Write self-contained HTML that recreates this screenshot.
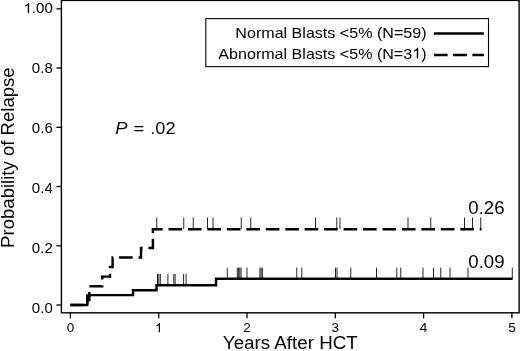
<!DOCTYPE html>
<html><head><meta charset="utf-8">
<style>
html,body{margin:0;padding:0;background:#fff;}
body{width:520px;height:351px;overflow:hidden;}
svg{display:block;will-change:transform;}
text{font-family:"Liberation Sans",sans-serif;fill:#000;}
</style></head><body>
<svg width="520" height="351" viewBox="0 0 520 351">
<rect width="520" height="351" fill="#fff"/>
<rect x="61.4" y="0.4" width="457.7" height="312.4" fill="none" stroke="#000" stroke-width="1.4"/>
<g stroke="#000" stroke-width="1.3">
<line x1="56.4" y1="8.8" x2="61" y2="8.8"/>
<line x1="56.4" y1="68.0" x2="61" y2="68.0"/>
<line x1="56.4" y1="127.3" x2="61" y2="127.3"/>
<line x1="56.4" y1="186.5" x2="61" y2="186.5"/>
<line x1="56.4" y1="245.8" x2="61" y2="245.8"/>
<line x1="56.4" y1="305.0" x2="61" y2="305.0"/>
<line x1="70.4" y1="313" x2="70.4" y2="318.3"/>
<line x1="158.7" y1="313" x2="158.7" y2="318.3"/>
<line x1="247.0" y1="313" x2="247.0" y2="318.3"/>
<line x1="335.3" y1="313" x2="335.3" y2="318.3"/>
<line x1="423.6" y1="313" x2="423.6" y2="318.3"/>
<line x1="511.9" y1="313" x2="511.9" y2="318.3"/>
</g>
<text transform="translate(52.8,13.2) scale(1.06,1)" font-size="14.2" text-anchor="end">.00</text>
<path transform="translate(23.51,13.2) scale(0.00735,-0.00693)" d="M763,0 H583 V1147 Q518,1085 412.5,1023 Q307,961 223,930 V1104 Q374,1175 487,1276 Q600,1377 647,1472 H763 Z" fill="#000"/>
<text transform="translate(52.8,73.0) scale(1.06,1)" font-size="14.2" text-anchor="end">0.8</text>
<text transform="translate(52.8,132.9) scale(1.06,1)" font-size="14.2" text-anchor="end">0.6</text>
<text transform="translate(52.8,192.8) scale(1.06,1)" font-size="14.2" text-anchor="end">0.4</text>
<text transform="translate(52.8,252.8) scale(1.06,1)" font-size="14.2" text-anchor="end">0.2</text>
<text transform="translate(52.8,312.7) scale(1.06,1)" font-size="14.2" text-anchor="end">0.0</text>
<text transform="translate(70.4,332.2) scale(1.06,1)" font-size="12.8" text-anchor="middle">0</text>
<path transform="translate(154.93,332.2) scale(0.00663,-0.00625)" d="M763,0 H583 V1147 Q518,1085 412.5,1023 Q307,961 223,930 V1104 Q374,1175 487,1276 Q600,1377 647,1472 H763 Z" fill="#000"/>
<text transform="translate(247.0,332.2) scale(1.06,1)" font-size="12.8" text-anchor="middle">2</text>
<text transform="translate(335.3,332.2) scale(1.06,1)" font-size="12.8" text-anchor="middle">3</text>
<text transform="translate(423.6,332.2) scale(1.06,1)" font-size="12.8" text-anchor="middle">4</text>
<text transform="translate(511.9,332.2) scale(1.06,1)" font-size="12.8" text-anchor="middle">5</text>
<text transform="translate(290.3,349) scale(1.068,1)" font-size="17.6" text-anchor="middle">Years After HCT</text>
<text transform="translate(14.3,157.6) rotate(-90) scale(1.05,1)" font-size="17.7" text-anchor="middle">Probability of Relapse</text>
<rect x="205.8" y="18.6" width="282.7" height="48" fill="#fff" stroke="#000" stroke-width="1.1"/>
<text transform="translate(426.5,37.7) scale(1.076,1)" font-size="14.95" text-anchor="end">Normal Blasts &lt;5% (N=59)</text>
<text transform="translate(412.20,58.5) scale(1.076,1)" font-size="14.95" text-anchor="end">Abnormal Blasts &lt;5% (N=3</text>
<path transform="translate(412.20,58.5) scale(0.00785,-0.00730)" d="M763,0 H583 V1147 Q518,1085 412.5,1023 Q307,961 223,930 V1104 Q374,1175 487,1276 Q600,1377 647,1472 H763 Z" fill="#000"/>
<text transform="translate(426.5,58.5) scale(1.076,1)" font-size="14.95" text-anchor="end">)</text>
<line x1="433.8" y1="33.4" x2="483.8" y2="33.4" stroke="#000" stroke-width="2.55"/>
<line x1="433.8" y1="55" x2="483.8" y2="55" stroke="#000" stroke-width="2.55" stroke-dasharray="13.8 5.5"/>
<text transform="translate(115.2,133.9) scale(1.06,1)" font-size="17.4" text-anchor="start"><tspan font-style="italic">P</tspan></text>
<text transform="translate(133.6,133.9) scale(1.06,1)" font-size="17.4" text-anchor="start">=</text>
<text transform="translate(150.3,133.9) scale(1.06,1)" font-size="17.1" text-anchor="start">.02</text>
<g stroke="#000" stroke-width="0.85">
<line x1="157.5" y1="273.9" x2="157.5" y2="285"/>
<line x1="158.8" y1="273.9" x2="158.8" y2="285"/>
<line x1="160.3" y1="273.9" x2="160.3" y2="285"/>
<line x1="167.9" y1="273.9" x2="167.9" y2="285"/>
<line x1="173.8" y1="273.9" x2="173.8" y2="285"/>
<line x1="175.1" y1="273.9" x2="175.1" y2="285"/>
<line x1="183.6" y1="273.9" x2="183.6" y2="285"/>
<line x1="186.1" y1="273.9" x2="186.1" y2="285"/>
<line x1="227.3" y1="267.6" x2="227.3" y2="278.7"/>
<line x1="237.3" y1="267.6" x2="237.3" y2="278.7"/>
<line x1="238.6" y1="267.6" x2="238.6" y2="278.7"/>
<line x1="239.8" y1="267.6" x2="239.8" y2="278.7"/>
<line x1="241.1" y1="267.6" x2="241.1" y2="278.7"/>
<line x1="247" y1="267.6" x2="247" y2="278.7"/>
<line x1="259.9" y1="267.6" x2="259.9" y2="278.7"/>
<line x1="261.1" y1="267.6" x2="261.1" y2="278.7"/>
<line x1="262.4" y1="267.6" x2="262.4" y2="278.7"/>
<line x1="296.75" y1="267.6" x2="296.75" y2="278.7"/>
<line x1="301.75" y1="267.6" x2="301.75" y2="278.7"/>
<line x1="335.5" y1="267.6" x2="335.5" y2="278.7"/>
<line x1="337" y1="267.6" x2="337" y2="278.7"/>
<line x1="350.75" y1="267.6" x2="350.75" y2="278.7"/>
<line x1="376.5" y1="267.6" x2="376.5" y2="278.7"/>
<line x1="396.75" y1="267.6" x2="396.75" y2="278.7"/>
<line x1="400.75" y1="267.6" x2="400.75" y2="278.7"/>
<line x1="423" y1="267.6" x2="423" y2="278.7"/>
<line x1="433.5" y1="267.6" x2="433.5" y2="278.7"/>
<line x1="440.75" y1="267.6" x2="440.75" y2="278.7"/>
<line x1="450" y1="267.6" x2="450" y2="278.7"/>
<line x1="468" y1="267.6" x2="468" y2="278.7"/>
<line x1="512.3" y1="267.6" x2="512.3" y2="278.7"/>
<line x1="156.75" y1="217.5" x2="156.75" y2="229.2"/>
<line x1="183.75" y1="217.5" x2="183.75" y2="229.2"/>
<line x1="193.25" y1="217.5" x2="193.25" y2="229.2"/>
<line x1="207.5" y1="217.5" x2="207.5" y2="229.2"/>
<line x1="213" y1="217.5" x2="213" y2="229.2"/>
<line x1="241.25" y1="217.5" x2="241.25" y2="229.2"/>
<line x1="250.75" y1="217.5" x2="250.75" y2="229.2"/>
<line x1="315.5" y1="217.5" x2="315.5" y2="229.2"/>
<line x1="336.8" y1="217.5" x2="336.8" y2="229.2"/>
<line x1="340.0" y1="217.5" x2="340.0" y2="229.2"/>
<line x1="408" y1="217.5" x2="408" y2="229.2"/>
<line x1="430.75" y1="217.5" x2="430.75" y2="229.2"/>
<line x1="464.5" y1="217.5" x2="464.5" y2="229.2"/>
<line x1="472.5" y1="217.5" x2="472.5" y2="229.2"/>
<line x1="480.75" y1="217.5" x2="480.75" y2="229.2"/>
</g>
<path d="M70.4,305 H87.3 V300.1 H89.3 V295.1 H133 V290.2 H156.5 V285.3 H216 V278.7 H512.6" fill="none" stroke="#000" stroke-width="2.45" stroke-linejoin="miter"/>
<path d="M70.4,305 H87.3 V295.5 H89.3 V286.2 H102.2 V276.6 H110 V267 H112.6 V257.5 H141 V248 H152.9 V229.2 H481.5" fill="none" stroke="#000" stroke-width="2.45" stroke-dasharray="13.6 5.85" stroke-dashoffset="1.1"/>
<text transform="translate(504.6,214) scale(1.06,1)" font-size="17.6" text-anchor="end">0.26</text>
<text transform="translate(504.6,267.5) scale(1.06,1)" font-size="17.6" text-anchor="end">0.09</text>
</svg>
</body></html>
